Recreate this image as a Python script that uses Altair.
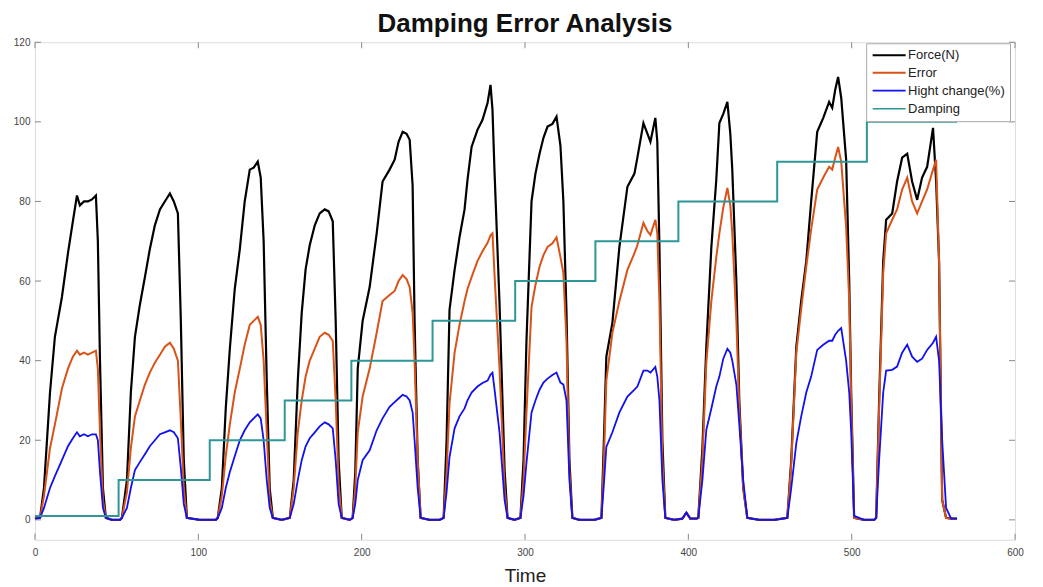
import altair as alt
import pandas as pd

# ---- data ----
TIME = [
    0, 3.1, 5.5, 9.2, 12.2, 16.5, 20.2, 23.2, 25.7, 27.5, 30.0, 32.4, 34.9, 37.3, 38.5, 39.8, 41.6, 43.4, 47.1, 52.0,
    53.2, 56.3, 58.7, 61.2, 64.2, 67.3, 70.3, 73.4, 76.5, 79.5, 82.6, 85.0, 87.5, 89.3, 91.1, 93.0, 100.9, 110.7,
    111.9, 114.4, 116.8, 119.3, 122.3, 125.4, 128.4, 131.5, 133.9, 136.4, 138.2, 140.0, 141.9, 143.7, 145.6, 151.1,
    156.0, 158.4, 160.9, 163.3, 165.7, 168.2, 171.3, 174.3, 177.4, 179.8, 182.3, 184.1, 185.9, 187.8, 192.7,
    194.5, 196.1, 197.6, 200.6, 204.9, 209.2, 212.8, 217.1, 220.2, 222.6, 225.1, 227.5, 229.4, 231.2, 232.4, 234.3, 236.1, 241.6, 247.7,
    250.2, 252.0, 253.8, 256.9, 259.9, 263.0, 264.8, 267.3, 270.9, 274.0, 277.1, 278.9, 280.1, 281.3, 284.4, 287.5, 289.3, 293.6,
    297.2, 299.1, 300.9, 304.0, 306.4, 308.9, 311.3, 313.8, 316.8, 319.3, 321.7, 323.5, 325.4, 327.2, 329.0, 333.3, 342.5,
    346.8, 348.3, 349.8, 353.5, 357.8, 362.7, 367.0, 368.8, 372.5, 375.0, 376.8, 379.8, 381.0, 382.3, 384.1, 385.9, 391.4, 396.3, 398.8, 401.2, 404.9,
    406.1, 408.6, 411.0, 414.1, 417.1, 419.0, 421.4, 423.9, 425.7, 426.9, 429.4, 431.2, 433.6, 436.1, 443.4, 452.6,
    460.6, 463.0, 466.1, 469.1, 472.2, 475.2, 478.9, 482.6, 486.2, 488.1, 489.9, 491.7, 493.6, 496.6, 498.5, 499.7, 501.5, 507.6, 513.8,
    515.0, 516.8, 519.3, 521.1, 524.8, 527.8, 530.9, 534.0, 537.0, 540.1, 543.1, 546.2, 549.8, 551.7, 553.5, 555.4, 557.8, 560.9, 564.5,
]
FORCE = [
    0.3, 0.5, 8, 32, 46, 56, 67, 75, 81.5, 79, 80, 80, 80.5, 81.5, 70, 40, 8, 0.5, 0, 0,
    0.5, 10, 32, 46, 54, 61, 68, 74, 78, 80, 82, 80, 77, 50, 15, 0.5, 0, 0,
    0.5, 8, 28, 43, 58, 68, 80, 88, 88.5, 90, 86, 70, 35, 8, 0.5, 0,
    0.5, 10, 35, 52, 63, 69, 74, 77, 78, 77.5, 75, 50, 15, 0.5, 0,
    0.5, 12, 38, 50, 58.5, 72, 85, 88, 90.5, 95, 97.5, 97, 95.5, 84, 50, 15, 0.5, 0, 0,
    0.5, 20, 52.8, 62.8, 71, 78, 85.4, 93.7, 98, 100.5, 104.8, 109.3, 103, 88, 54.5, 12.6, 0.5, 0,
    0.5, 15, 45, 80, 87, 92, 96, 98.8, 99.5, 101.3, 94, 80, 52, 15, 0.5, 0, 0,
    0.5, 20, 41, 49.5, 68.6, 83.7, 87, 91, 99.7, 97, 95, 101, 95, 68.6, 20, 0.5, 0, 0.3, 1.8, 0.3, 0.3,
    0.5, 18, 43.5, 68.6, 85.4, 99.7, 102, 105, 97, 88, 60, 30, 8, 0.5, 0, 0,
    0.5, 15, 43.5, 55, 65, 80, 97.5, 101, 105, 103.5, 108, 111.3, 106, 90.5, 60, 32, 0.5, 0, 0,
    0.5, 30, 65, 75.4, 77, 85, 91, 92, 85, 80.4, 86, 88.7, 98.5, 85, 65, 5, 0.5, 0.3, 0.3,
]
ERROR = [
    0.3, 0.5, 6, 18, 24, 33, 38, 41, 42.5, 41.5, 42, 41.5, 42, 42.5, 38, 22, 5, 0.5, 0, 0,
    0.5, 7, 18, 26, 30, 34, 37, 39.5, 41.5, 43.5, 44.5, 43, 40, 25, 8, 0.5, 0, 0,
    0.5, 6, 16, 24, 32, 38, 44, 49, 50, 51, 49, 40, 22, 5, 0.5, 0,
    0.5, 8, 22, 30, 36, 40, 43, 46, 47, 46.5, 45, 30, 9, 0.5, 0,
    0.5, 8, 22, 31, 38, 47, 55, 56.5, 57.5, 60, 61.5, 60.5, 58.5, 52, 40, 15, 0.5, 0, 0,
    0.5, 12, 29.3, 42, 49, 55, 58, 61, 65, 67.5, 69.6, 71.5, 72, 62, 38, 8, 0.5, 0,
    0.5, 10, 27, 53.5, 59, 63.6, 66.5, 68.6, 69.5, 71, 66, 62, 45, 12, 0.5, 0, 0,
    0.5, 15, 35, 47, 55, 62.8, 67, 69, 74.6, 72.5, 71.6, 75.4, 72, 55, 15, 0.5, 0, 0.3, 1.8, 0.3, 0.3,
    0.5, 15, 39.4, 55, 66, 72, 78.5, 83.4, 79, 72, 50, 28, 8, 0.5, 0, 0,
    0.5, 14, 42, 53, 63.6, 73, 83, 86, 88.7, 88, 91, 93.7, 90, 73.6, 55, 30, 0.5, 0, 0,
    0.5, 28, 62, 72, 75.4, 78, 83, 86, 80, 77, 80, 83, 88, 90.5, 65, 5, 0.5, 0.3, 0.3,
]
HEIGHT = [
    0.3, 0.5, 3, 8, 11, 15, 18.5, 20.5, 22, 21, 21.5, 21, 21.5, 21.5, 20, 12, 3, 0.5, 0, 0,
    0.5, 3, 8, 12.5, 14.5, 16.5, 18.5, 20, 21.5, 22, 22.5, 22, 20.5, 13, 4, 0.5, 0, 0,
    0.5, 3, 8, 12, 16, 20, 22.5, 24.5, 25.5, 26.5, 25.5, 20, 10, 3, 0.5, 0,
    0.5, 4, 10, 15, 18.5, 20.5, 22, 23.5, 24.5, 24, 23, 15, 4, 0.5, 0,
    0.5, 4, 10, 15, 17.5, 22.5, 25.5, 28.4, 29.6, 30.5, 31.4, 31, 30, 27, 20, 8, 0.5, 0, 0,
    0.5, 7, 15.8, 23, 26, 28, 30, 32, 33.5, 34.4, 35, 36.5, 37, 33, 22, 5, 0.5, 0,
    0.5, 6, 14.3, 27, 30, 32.7, 34.5, 35.5, 36.4, 37, 34.5, 34, 30, 10, 0.5, 0, 0,
    0.5, 9, 18.3, 22, 27, 31, 32.7, 33.5, 37.5, 37.5, 37, 38.4, 36, 30, 10, 0.5, 0, 0.3, 1.8, 0.3, 0.3,
    0.5, 10, 22.6, 28, 33.5, 36, 40.5, 43, 42, 40, 34, 24, 10, 0.5, 0, 0,
    0.5, 8, 19.3, 26, 32, 36, 42.7, 44, 45, 45, 46.5, 47.5, 48.2, 40, 32, 22, 1, 0, 0,
    0.5, 15, 32, 37.5, 37.7, 38.5, 42, 44, 41, 39.7, 40.5, 42.7, 44.5, 46, 40, 20, 3, 0.3, 0.3,
]
DAMP_T = [0, 51.2, 107.0, 152.9, 193.7, 243.4, 294.0, 343.1, 393.9, 454.4, 509.3, 564.5]
DAMP_V = [1, 10, 20, 30, 40, 50, 60, 70, 80, 90, 100, 100]

SERIES = ["Force(N)", "Error", "Hight change(%)", "Damping"]
COLORS = ["#000000", "#D95319", "#1010F0", "#2E9696"]
WIDTHS = [2.2, 1.6, 2.0, 2.0]
X_TICKS = [0, 100, 200, 300, 400, 500, 600]
Y_TICKS = [0, 20, 40, 60, 80, 100, 120]

W, H = 981, 498
FONT = "Liberation Sans"

rows = []
for name, vals in zip(SERIES[:3], [FORCE, ERROR, HEIGHT]):
    for i, (t, v) in enumerate(zip(TIME, vals)):
        rows.append({"t": t, "v": v, "series": name, "i": i})
df = pd.DataFrame(rows)
damp = pd.DataFrame({"t": DAMP_T, "v": DAMP_V, "series": "Damping"})

xs = alt.Scale(domain=[0, 600], nice=False)
ys = alt.Scale(domain=[-5, 120], nice=False)
cs = alt.Scale(domain=SERIES, range=COLORS)
ws = alt.Scale(domain=SERIES, range=WIDTHS)

legend = alt.Legend(
    title=None, orient="none", legendX=832, legendY=1,
    symbolType="M-1,0H5", symbolSize=121, symbolStrokeWidth=2,
    labelOffset=23, labelFontSize=13, labelFont=FONT, labelColor="#222",
    rowPadding=4, padding=5, strokeColor="#aaaaaa", fillColor="white",
)

x_axis = alt.Axis(values=X_TICKS, ticks=False, domain=False, grid=False, labelFlush=False,
                  labelPadding=8, labelFontSize=10, labelColor="#444", labelFont=FONT,
                  title="Time", titleFontSize=19, titleFontWeight="normal",
                  titleFont=FONT, titleColor="#222", titlePadding=9)
y_axis = alt.Axis(values=Y_TICKS, ticks=False, domain=False, grid=False, labelFlush=False,
                  labelPadding=5, labelFontSize=10, labelColor="#444", labelFont=FONT,
                  title=None)

lines = alt.Chart(df).mark_line().encode(
    x=alt.X("t:Q", scale=xs, axis=x_axis),
    y=alt.Y("v:Q", scale=ys, axis=y_axis),
    color=alt.Color("series:N", scale=cs, legend=legend),
    strokeWidth=alt.StrokeWidth("series:N", scale=ws, legend=None),
    order=alt.Order("i:Q"),
)

damping = alt.Chart(damp).mark_line(interpolate="step-after", strokeWidth=2).encode(
    x=alt.X("t:Q", scale=xs),
    y=alt.Y("v:Q", scale=ys),
    color=alt.Color("series:N", scale=cs, legend=legend),
)

xt = pd.DataFrame({"x": X_TICKS})
yt = pd.DataFrame({"y": Y_TICKS})
tick_color = "#888888"
tb = alt.Chart(xt).mark_rule(color=tick_color, strokeWidth=1).encode(
    x=alt.X("x:Q", scale=xs), y=alt.value(H), y2=alt.value(H - 6))
tt = alt.Chart(xt).mark_rule(color=tick_color, strokeWidth=1).encode(
    x=alt.X("x:Q", scale=xs), y=alt.value(0), y2=alt.value(6))
tl = alt.Chart(yt).mark_rule(color=tick_color, strokeWidth=1).encode(
    y=alt.Y("y:Q", scale=ys), x=alt.value(0), x2=alt.value(6))
tr = alt.Chart(yt).mark_rule(color=tick_color, strokeWidth=1).encode(
    y=alt.Y("y:Q", scale=ys), x=alt.value(W), x2=alt.value(W - 6))

chart = alt.layer(lines, damping, tb, tt, tl, tr).properties(
    width=W, height=H,
    title=alt.Title("Damping Error Analysis", fontSize=26, fontWeight="bold",
                    font=FONT, color="#111", anchor="middle", frame="group", offset=0),
    autosize=alt.AutoSizeParams(type="none"),
    padding={"left": 27, "top": 34, "right": 20, "bottom": 45},
).configure_view(stroke="#999999", strokeWidth=1).configure(font=FONT, background="white")

chart.save("out.html", embed_options={"renderer": "svg", "actions": False})
